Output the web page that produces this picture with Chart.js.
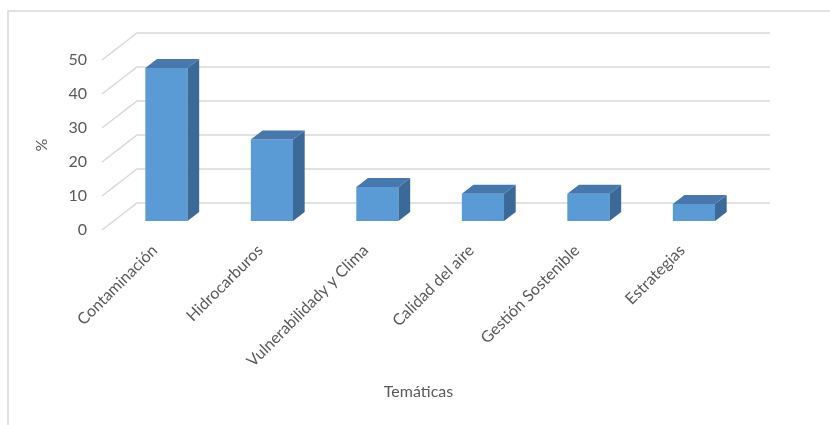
<!DOCTYPE html>
<html>
<head>
<meta charset="utf-8">
<script src="https://cdn.jsdelivr.net/npm/chart.js@4/dist/chart.umd.min.js"></script>
<style>
  html, body { margin: 0; padding: 0; background: #fff; }
  canvas { display: block; }
</style>
</head>
<body>
<canvas id="chart" width="830" height="425"></canvas>
<script>
// data
const categories = ['Contaminación', 'Hidrocarburos', 'Vulnerabilidady y Clima', 'Calidad del aire', 'Gestión Sostenible', 'Estrategias'];
const values = [45, 24, 10, 8, 8, 5];
const yTicks = [0, 10, 20, 30, 40, 50];

// perspective offset from front plane to back wall
const depth = { x: 35, y: -27 };
const textColor = '#595959';
const font = 'Lato, "Open Sans", sans-serif';

// fake 3d: back wall gridlines, bars pushed to mid depth, side + top faces
const threeD = {
    id: 'threeD',
    beforeDraw(chart) {
        const ctx = chart.ctx;
        ctx.save();
        ctx.fillStyle = '#fff';
        ctx.fillRect(0, 0, chart.width, chart.height);
        ctx.strokeStyle = '#d9d9d9';
        ctx.lineWidth = 1.5;
        ctx.beginPath();
        ctx.moveTo(8, chart.height);
        ctx.lineTo(8, 11);
        ctx.lineTo(chart.width, 11);
        ctx.stroke();
        ctx.restore();
    },
    beforeDatasetsDraw(chart) {
        const { ctx, chartArea, scales } = chart;
        const y = scales.y;
        ctx.save();
        ctx.strokeStyle = '#d9d9d9';
        ctx.lineWidth = 1.5;
        y.ticks.forEach(t => {
            const py = y.getPixelForValue(t.value);
            ctx.beginPath();
            ctx.moveTo(chartArea.left, py);
            ctx.lineTo(chartArea.left + depth.x, py + depth.y);
            ctx.lineTo(chartArea.right + depth.x, py + depth.y);
            ctx.stroke();
        });
        ctx.restore();
        ctx.save();
        ctx.translate(depth.x / 3, depth.y / 3);
    },
    afterDatasetsDraw(chart) {
        const ctx = chart.ctx;
        const bx = depth.x / 3, by = depth.y / 3;
        chart.getDatasetMeta(0).data.forEach(bar => {
            const { x, y, base, width } = bar.getProps(['x', 'y', 'base', 'width'], true);
            const l = x - width / 2, r = x + width / 2;
            ctx.fillStyle = '#3b6a99';
            ctx.beginPath();
            ctx.moveTo(r, y);
            ctx.lineTo(r + bx, y + by);
            ctx.lineTo(r + bx, base + by);
            ctx.lineTo(r, base);
            ctx.closePath();
            ctx.fill();
            ctx.fillStyle = '#4677ad';
            ctx.beginPath();
            ctx.moveTo(l, y);
            ctx.lineTo(l + bx, y + by);
            ctx.lineTo(r + bx, y + by);
            ctx.lineTo(r, y);
            ctx.closePath();
            ctx.fill();
        });
        ctx.restore();
    }
};

new Chart(document.getElementById('chart'), {
    type: 'bar',
    data: {
        labels: categories,
        datasets: [{
            data: values,
            backgroundColor: '#5b9bd5',
            borderWidth: 0,
            barPercentage: 0.4,
            categoryPercentage: 1,
            clip: false
        }]
    },
    options: {
        responsive: false,
        animation: false,
        layout: { padding: { top: 60, right: 95, bottom: 20, left: 28 } },
        plugins: { legend: { display: false }, tooltip: { enabled: false } },
        scales: {
            x: {
                grid: { display: false, drawTicks: false },
                border: { display: false },
                ticks: {
                    color: textColor, font: { family: font, size: 16 },
                    minRotation: 45, maxRotation: 45, padding: 11
                },
                title: {
                    display: true, text: 'Temáticas', color: textColor,
                    font: { family: font, size: 16 }, padding: { top: 4, bottom: 4 }
                },
                afterFit: s => { s.height = 175; }
            },
            y: {
                min: 0, max: 50,
                afterBuildTicks: s => { s.ticks = yTicks.map(v => ({ value: v })); },
                grid: { display: false, drawTicks: false },
                border: { display: false },
                ticks: { color: textColor, font: { family: font, size: 16 }, padding: 15 },
                title: {
                    display: true, text: '%', color: textColor,
                    font: { family: font, size: 16 }, padding: { top: 4, bottom: 4 }
                },
                afterFit: s => { s.width = 74; }
            }
        }
    },
    plugins: [threeD]
});
</script>
</body>
</html>
